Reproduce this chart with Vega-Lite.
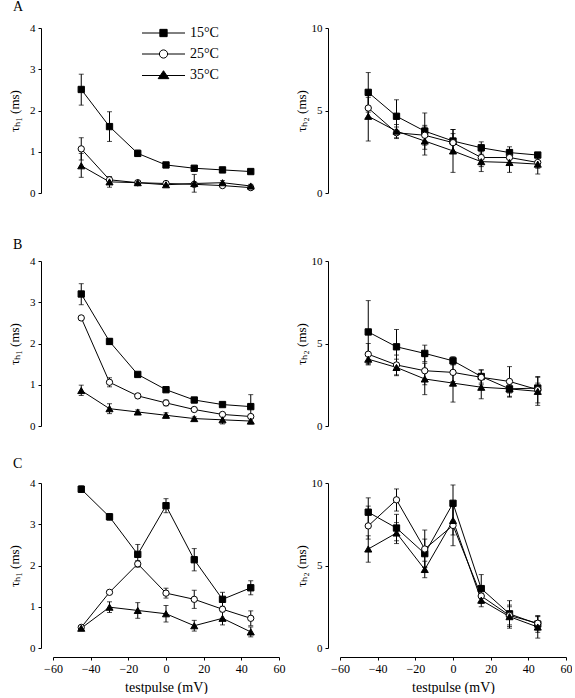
{
"$schema":"https://vega.github.io/schema/vega-lite/v6.json",
"background":"white",
"padding":{"left":8,"top":0,"right":0,"bottom":0},
"config":{
 "view":{"stroke":null},
 "font":"Liberation Serif",
 "axis":{"grid":false,"domainColor":"black","tickColor":"black","labelColor":"black","titleColor":"black","labelFont":"Liberation Serif","titleFont":"Liberation Serif","labelFontSize":12,"titleFontSize":13,"titleFontWeight":"normal","tickSize":3,"labelPadding":3,"domainWidth":1,"tickWidth":1},
 "axisY":{"offset":12,"titleX":-20,"labelFontSize":11,"labelFont":"Liberation Serif","titleFont":"Liberation Serif"},
 "axisX":{"offset":9,"labelFlush":false,"labelFontSize":12,"titleFontSize":14,"titlePadding":6,"labelFont":"Liberation Serif","titleFont":"Liberation Serif"}
},
"datasets":{"d":[
{"r":"A","p":"h1","temp":"15°C","v":-45,"m":2.51,"lo":2.13,"hi":2.88},
{"r":"A","p":"h1","temp":"15°C","v":-30,"m":1.61,"lo":1.25,"hi":1.97},
{"r":"A","p":"h1","temp":"15°C","v":-15,"m":0.96,"lo":0.89,"hi":1.04},
{"r":"A","p":"h1","temp":"15°C","v":0,"m":0.68,"lo":0.64,"hi":0.72},
{"r":"A","p":"h1","temp":"15°C","v":15,"m":0.60,"lo":0.56,"hi":0.64},
{"r":"A","p":"h1","temp":"15°C","v":30,"m":0.56,"lo":0.53,"hi":0.59},
{"r":"A","p":"h1","temp":"15°C","v":45,"m":0.52,"lo":0.48,"hi":0.56},
{"r":"A","p":"h1","temp":"25°C","v":-45,"m":1.07,"lo":0.80,"hi":1.34},
{"r":"A","p":"h1","temp":"25°C","v":-30,"m":0.32,"lo":0.28,"hi":0.36},
{"r":"A","p":"h1","temp":"25°C","v":-15,"m":0.25,"lo":0.21,"hi":0.29},
{"r":"A","p":"h1","temp":"25°C","v":0,"m":0.23,"lo":0.19,"hi":0.27},
{"r":"A","p":"h1","temp":"25°C","v":15,"m":0.21,"lo":0.17,"hi":0.25},
{"r":"A","p":"h1","temp":"25°C","v":30,"m":0.18,"lo":0.15,"hi":0.21},
{"r":"A","p":"h1","temp":"25°C","v":45,"m":0.13,"lo":0.10,"hi":0.16},
{"r":"A","p":"h1","temp":"35°C","v":-45,"m":0.66,"lo":0.38,"hi":0.96},
{"r":"A","p":"h1","temp":"35°C","v":-30,"m":0.27,"lo":0.14,"hi":0.40},
{"r":"A","p":"h1","temp":"35°C","v":-15,"m":0.25,"lo":0.20,"hi":0.30},
{"r":"A","p":"h1","temp":"35°C","v":0,"m":0.20,"lo":0.16,"hi":0.24},
{"r":"A","p":"h1","temp":"35°C","v":15,"m":0.23,"lo":0.02,"hi":0.45},
{"r":"A","p":"h1","temp":"35°C","v":30,"m":0.25,"lo":0.20,"hi":0.30},
{"r":"A","p":"h1","temp":"35°C","v":45,"m":0.17,"lo":0.13,"hi":0.21},
{"r":"A","p":"h2","temp":"15°C","v":-45,"m":6.1,"lo":4.9,"hi":7.3},
{"r":"A","p":"h2","temp":"15°C","v":-30,"m":4.65,"lo":3.65,"hi":5.65},
{"r":"A","p":"h2","temp":"15°C","v":-15,"m":3.75,"lo":2.65,"hi":4.85},
{"r":"A","p":"h2","temp":"15°C","v":0,"m":3.15,"lo":2.45,"hi":3.85},
{"r":"A","p":"h2","temp":"15°C","v":15,"m":2.74,"lo":2.35,"hi":3.1},
{"r":"A","p":"h2","temp":"15°C","v":30,"m":2.45,"lo":2.1,"hi":2.8},
{"r":"A","p":"h2","temp":"15°C","v":45,"m":2.3,"lo":2.15,"hi":2.45},
{"r":"A","p":"h2","temp":"25°C","v":-45,"m":5.15,"lo":4.5,"hi":5.8},
{"r":"A","p":"h2","temp":"25°C","v":-30,"m":3.65,"lo":3.3,"hi":4.0},
{"r":"A","p":"h2","temp":"25°C","v":-15,"m":3.5,"lo":2.9,"hi":4.1},
{"r":"A","p":"h2","temp":"25°C","v":0,"m":3.05,"lo":2.5,"hi":3.6},
{"r":"A","p":"h2","temp":"25°C","v":15,"m":2.15,"lo":1.6,"hi":2.7},
{"r":"A","p":"h2","temp":"25°C","v":30,"m":2.15,"lo":1.7,"hi":2.6},
{"r":"A","p":"h2","temp":"25°C","v":45,"m":1.85,"lo":1.5,"hi":2.2},
{"r":"A","p":"h2","temp":"35°C","v":-45,"m":4.65,"lo":3.15,"hi":6.15},
{"r":"A","p":"h2","temp":"35°C","v":-30,"m":3.75,"lo":3.35,"hi":4.15},
{"r":"A","p":"h2","temp":"35°C","v":-15,"m":3.15,"lo":2.3,"hi":4.0},
{"r":"A","p":"h2","temp":"35°C","v":0,"m":2.55,"lo":1.25,"hi":3.85},
{"r":"A","p":"h2","temp":"35°C","v":15,"m":1.9,"lo":1.3,"hi":2.5},
{"r":"A","p":"h2","temp":"35°C","v":30,"m":1.85,"lo":1.25,"hi":2.45},
{"r":"A","p":"h2","temp":"35°C","v":45,"m":1.75,"lo":1.15,"hi":2.35},
{"r":"B","p":"h1","temp":"15°C","v":-45,"m":3.20,"lo":2.94,"hi":3.45},
{"r":"B","p":"h1","temp":"15°C","v":-30,"m":2.05,"lo":1.98,"hi":2.12},
{"r":"B","p":"h1","temp":"15°C","v":-15,"m":1.25,"lo":1.21,"hi":1.29},
{"r":"B","p":"h1","temp":"15°C","v":0,"m":0.88,"lo":0.84,"hi":0.92},
{"r":"B","p":"h1","temp":"15°C","v":15,"m":0.63,"lo":0.59,"hi":0.67},
{"r":"B","p":"h1","temp":"15°C","v":30,"m":0.52,"lo":0.48,"hi":0.56},
{"r":"B","p":"h1","temp":"15°C","v":45,"m":0.47,"lo":0.18,"hi":0.76},
{"r":"B","p":"h1","temp":"25°C","v":-45,"m":2.62,"lo":2.58,"hi":2.66},
{"r":"B","p":"h1","temp":"25°C","v":-30,"m":1.06,"lo":0.95,"hi":1.17},
{"r":"B","p":"h1","temp":"25°C","v":-15,"m":0.73,"lo":0.68,"hi":0.78},
{"r":"B","p":"h1","temp":"25°C","v":0,"m":0.56,"lo":0.49,"hi":0.63},
{"r":"B","p":"h1","temp":"25°C","v":15,"m":0.40,"lo":0.36,"hi":0.44},
{"r":"B","p":"h1","temp":"25°C","v":30,"m":0.28,"lo":0.25,"hi":0.31},
{"r":"B","p":"h1","temp":"25°C","v":45,"m":0.23,"lo":0.19,"hi":0.27},
{"r":"B","p":"h1","temp":"35°C","v":-45,"m":0.86,"lo":0.74,"hi":0.99},
{"r":"B","p":"h1","temp":"35°C","v":-30,"m":0.42,"lo":0.30,"hi":0.54},
{"r":"B","p":"h1","temp":"35°C","v":-15,"m":0.34,"lo":0.29,"hi":0.39},
{"r":"B","p":"h1","temp":"35°C","v":0,"m":0.26,"lo":0.20,"hi":0.32},
{"r":"B","p":"h1","temp":"35°C","v":15,"m":0.18,"lo":0.14,"hi":0.22},
{"r":"B","p":"h1","temp":"35°C","v":30,"m":0.15,"lo":0.05,"hi":0.25},
{"r":"B","p":"h1","temp":"35°C","v":45,"m":0.12,"lo":0.05,"hi":0.19},
{"r":"B","p":"h2","temp":"15°C","v":-45,"m":5.7,"lo":3.8,"hi":7.6},
{"r":"B","p":"h2","temp":"15°C","v":-30,"m":4.8,"lo":3.8,"hi":5.85},
{"r":"B","p":"h2","temp":"15°C","v":-15,"m":4.4,"lo":3.9,"hi":4.9},
{"r":"B","p":"h2","temp":"15°C","v":0,"m":3.95,"lo":3.7,"hi":4.2},
{"r":"B","p":"h2","temp":"15°C","v":15,"m":3.0,"lo":2.6,"hi":3.4},
{"r":"B","p":"h2","temp":"15°C","v":30,"m":2.25,"lo":2.0,"hi":2.5},
{"r":"B","p":"h2","temp":"15°C","v":45,"m":2.3,"lo":2.0,"hi":2.6},
{"r":"B","p":"h2","temp":"25°C","v":-45,"m":4.35,"lo":3.7,"hi":5.0},
{"r":"B","p":"h2","temp":"25°C","v":-30,"m":3.7,"lo":3.1,"hi":4.3},
{"r":"B","p":"h2","temp":"25°C","v":-15,"m":3.35,"lo":2.5,"hi":4.2},
{"r":"B","p":"h2","temp":"25°C","v":0,"m":3.25,"lo":2.7,"hi":3.8},
{"r":"B","p":"h2","temp":"25°C","v":15,"m":2.95,"lo":2.5,"hi":3.4},
{"r":"B","p":"h2","temp":"25°C","v":30,"m":2.7,"lo":1.8,"hi":3.6},
{"r":"B","p":"h2","temp":"25°C","v":45,"m":2.2,"lo":1.4,"hi":3.0},
{"r":"B","p":"h2","temp":"35°C","v":-45,"m":4.05,"lo":3.75,"hi":4.35},
{"r":"B","p":"h2","temp":"35°C","v":-30,"m":3.55,"lo":3.05,"hi":4.05},
{"r":"B","p":"h2","temp":"35°C","v":-15,"m":2.85,"lo":1.9,"hi":3.8},
{"r":"B","p":"h2","temp":"35°C","v":0,"m":2.6,"lo":1.45,"hi":3.75},
{"r":"B","p":"h2","temp":"35°C","v":15,"m":2.35,"lo":1.65,"hi":3.05},
{"r":"B","p":"h2","temp":"35°C","v":30,"m":2.25,"lo":1.75,"hi":2.75},
{"r":"B","p":"h2","temp":"35°C","v":45,"m":2.1,"lo":1.25,"hi":2.95},
{"r":"C","p":"h1","temp":"15°C","v":-45,"m":3.85,"lo":3.77,"hi":3.93},
{"r":"C","p":"h1","temp":"15°C","v":-30,"m":3.18,"lo":3.10,"hi":3.26},
{"r":"C","p":"h1","temp":"15°C","v":-15,"m":2.27,"lo":2.03,"hi":2.51},
{"r":"C","p":"h1","temp":"15°C","v":0,"m":3.45,"lo":3.28,"hi":3.62},
{"r":"C","p":"h1","temp":"15°C","v":15,"m":2.14,"lo":1.87,"hi":2.41},
{"r":"C","p":"h1","temp":"15°C","v":30,"m":1.18,"lo":1.01,"hi":1.35},
{"r":"C","p":"h1","temp":"15°C","v":45,"m":1.46,"lo":1.29,"hi":1.63},
{"r":"C","p":"h1","temp":"25°C","v":-45,"m":0.50,"lo":0.46,"hi":0.54},
{"r":"C","p":"h1","temp":"25°C","v":-30,"m":1.35,"lo":1.32,"hi":1.38},
{"r":"C","p":"h1","temp":"25°C","v":-15,"m":2.04,"lo":1.96,"hi":2.12},
{"r":"C","p":"h1","temp":"25°C","v":0,"m":1.33,"lo":1.21,"hi":1.45},
{"r":"C","p":"h1","temp":"25°C","v":15,"m":1.18,"lo":0.96,"hi":1.40},
{"r":"C","p":"h1","temp":"25°C","v":30,"m":0.94,"lo":0.90,"hi":0.98},
{"r":"C","p":"h1","temp":"25°C","v":45,"m":0.72,"lo":0.54,"hi":0.90},
{"r":"C","p":"h1","temp":"35°C","v":-45,"m":0.48,"lo":0.45,"hi":0.51},
{"r":"C","p":"h1","temp":"35°C","v":-30,"m":0.99,"lo":0.86,"hi":1.12},
{"r":"C","p":"h1","temp":"35°C","v":-15,"m":0.91,"lo":0.72,"hi":1.10},
{"r":"C","p":"h1","temp":"35°C","v":0,"m":0.83,"lo":0.63,"hi":1.03},
{"r":"C","p":"h1","temp":"35°C","v":15,"m":0.54,"lo":0.41,"hi":0.67},
{"r":"C","p":"h1","temp":"35°C","v":30,"m":0.72,"lo":0.56,"hi":0.88},
{"r":"C","p":"h1","temp":"35°C","v":45,"m":0.39,"lo":0.27,"hi":0.51},
{"r":"C","p":"h2","temp":"15°C","v":-45,"m":8.23,"lo":7.4,"hi":9.1},
{"r":"C","p":"h2","temp":"15°C","v":-30,"m":7.27,"lo":6.5,"hi":8.1},
{"r":"C","p":"h2","temp":"15°C","v":-15,"m":5.72,"lo":4.9,"hi":6.6},
{"r":"C","p":"h2","temp":"15°C","v":0,"m":8.77,"lo":7.7,"hi":9.88},
{"r":"C","p":"h2","temp":"15°C","v":15,"m":3.6,"lo":2.75,"hi":4.45},
{"r":"C","p":"h2","temp":"15°C","v":30,"m":2.07,"lo":1.3,"hi":2.87},
{"r":"C","p":"h2","temp":"15°C","v":45,"m":1.45,"lo":0.95,"hi":1.95},
{"r":"C","p":"h2","temp":"25°C","v":-45,"m":7.4,"lo":6.6,"hi":8.6},
{"r":"C","p":"h2","temp":"25°C","v":-30,"m":8.98,"lo":8.3,"hi":9.64},
{"r":"C","p":"h2","temp":"25°C","v":-15,"m":6.0,"lo":4.9,"hi":7.15},
{"r":"C","p":"h2","temp":"25°C","v":0,"m":7.43,"lo":6.2,"hi":8.6},
{"r":"C","p":"h2","temp":"25°C","v":15,"m":3.15,"lo":2.7,"hi":3.6},
{"r":"C","p":"h2","temp":"25°C","v":30,"m":1.97,"lo":1.4,"hi":2.5},
{"r":"C","p":"h2","temp":"25°C","v":45,"m":1.5,"lo":1.1,"hi":1.9},
{"r":"C","p":"h2","temp":"35°C","v":-45,"m":6.0,"lo":5.2,"hi":6.8},
{"r":"C","p":"h2","temp":"35°C","v":-30,"m":6.97,"lo":6.33,"hi":7.6},
{"r":"C","p":"h2","temp":"35°C","v":-15,"m":4.76,"lo":4.26,"hi":5.26},
{"r":"C","p":"h2","temp":"35°C","v":0,"m":7.73,"lo":6.85,"hi":8.6},
{"r":"C","p":"h2","temp":"35°C","v":15,"m":2.9,"lo":2.5,"hi":3.3},
{"r":"C","p":"h2","temp":"35°C","v":30,"m":1.9,"lo":1.2,"hi":2.6},
{"r":"C","p":"h2","temp":"35°C","v":45,"m":1.27,"lo":0.6,"hi":1.95}
]},
"data":{"name":"d"},
"columns":2,
"spacing":{"row":57,"column":61},
"bounds":"flush",
"concat":[
  {"width":226,"height":165,
   "transform":[{"filter":"datum.r=='A' && datum.p=='h1'"}],
   "title":{"text":"A","anchor":"start","frame":"group","dx":-40,"offset":8,"fontSize":14,"font":"Liberation Serif","fontWeight":"normal","color":"black"},
   "encoding":{"x":{"field":"v","type":"quantitative","scale":{"domain":[-60,60]},"axis":null},
     "y":{"field":"m","type":"quantitative","scale":{"domain":[0,4]},"axis":{"values":[0,1,2,3,4],"title":"τₕ₁ (ms)"}}},
   "layer":[
    {"mark":{"type":"errorbar","ticks":{"size":5,"thickness":1,"color":"black"},"thickness":1,"color":"black"},"encoding":{"y":{"field":"lo","type":"quantitative","title":"τₕ₁ (ms)"},"y2":{"field":"hi"}}},
    {"mark":{"type":"line","color":"black","strokeWidth":1},"encoding":{"detail":{"field":"temp"}}},
    {"transform":[{"filter":"datum.temp=='15°C'"}],"mark":{"type":"point","shape":"square","filled":true,"fill":"black","stroke":"black","strokeWidth":1,"size":40,"opacity":1}},
    {"transform":[{"filter":"datum.temp=='25°C'"}],"mark":{"type":"point","shape":"circle","filled":true,"fill":"white","stroke":"black","strokeWidth":1,"size":40,"opacity":1}},
    {"transform":[{"filter":"datum.temp=='35°C'"}],"mark":{"type":"point","shape":"triangle-up","filled":true,"fill":"black","stroke":"black","strokeWidth":1,"size":50,"opacity":1}},
    {"mark":{"type":"point","filled":true,"stroke":"black","size":0},
     "encoding":{
      "shape":{"field":"temp","type":"nominal","scale":{"domain":["15°C","25°C","35°C"],"range":["M-4.3,0H4.3M-0.73,-0.73H0.73V0.73H-0.73Z","M-4.3,0H-0.82M0.82,0H4.3M-0.82,0A0.82,0.82 0 1 0 0.82,0A0.82,0.82 0 1 0 -0.82,0Z","M-4.3,0.1H4.3M0,-0.86L1.07,0.73H-1.07Z"]},
       "legend":{"orient":"none","legendX":103.5,"legendY":-2,"title":null,"symbolSize":100,"symbolStrokeColor":"black","symbolStrokeWidth":1,"symbolOpacity":1,"labelFont":"Liberation Serif","labelFontSize":14,"labelColor":"black","labelOffset":19.5,"rowPadding":7,"padding":0}},
      "fill":{"field":"temp","type":"nominal","scale":{"domain":["15°C","25°C","35°C"],"range":["black","white","black"]},
       "legend":{"orient":"none","legendX":103.5,"legendY":-2,"title":null,"symbolSize":100,"symbolStrokeColor":"black","symbolStrokeWidth":1,"symbolOpacity":1,"labelFont":"Liberation Serif","labelFontSize":14,"labelColor":"black","labelOffset":19.5,"rowPadding":7,"padding":0}},
      "stroke":{"field":"temp","type":"nominal","scale":{"domain":["15°C","25°C","35°C"],"range":["black","black","black"]},
       "legend":{"orient":"none","legendX":103.5,"legendY":-2,"title":null,"symbolSize":100,"symbolStrokeWidth":1,"symbolOpacity":1,"labelFont":"Liberation Serif","labelFontSize":14,"labelColor":"black","labelOffset":19.5,"rowPadding":7,"padding":0}}
     }}
   ]},
  {"width":226,"height":165,
   "transform":[{"filter":"datum.r=='A' && datum.p=='h2'"}],
   "encoding":{"x":{"field":"v","type":"quantitative","scale":{"domain":[-60,60]},"axis":null},
     "y":{"field":"m","type":"quantitative","scale":{"domain":[0,10]},"axis":{"values":[0,5,10],"title":"τₕ₂ (ms)"}}},
   "layer":[
    {"mark":{"type":"errorbar","ticks":{"size":5,"thickness":1,"color":"black"},"thickness":1,"color":"black"},"encoding":{"y":{"field":"lo","type":"quantitative","title":"τₕ₂ (ms)"},"y2":{"field":"hi"}}},
    {"mark":{"type":"line","color":"black","strokeWidth":1},"encoding":{"detail":{"field":"temp"}}},
    {"transform":[{"filter":"datum.temp=='15°C'"}],"mark":{"type":"point","shape":"square","filled":true,"fill":"black","stroke":"black","strokeWidth":1,"size":40,"opacity":1}},
    {"transform":[{"filter":"datum.temp=='25°C'"}],"mark":{"type":"point","shape":"circle","filled":true,"fill":"white","stroke":"black","strokeWidth":1,"size":40,"opacity":1}},
    {"transform":[{"filter":"datum.temp=='35°C'"}],"mark":{"type":"point","shape":"triangle-up","filled":true,"fill":"black","stroke":"black","strokeWidth":1,"size":50,"opacity":1}}
   ]},
  {"width":226,"height":176,
   "transform":[{"filter":"datum.r=='B' && datum.p=='h1'"}],
   "title":{"text":"B","anchor":"start","frame":"group","dx":-40,"offset":-2,"fontSize":14,"font":"Liberation Serif","fontWeight":"normal","color":"black"},
   "encoding":{"x":{"field":"v","type":"quantitative","scale":{"domain":[-60,60]},"axis":null},
     "y":{"field":"m","type":"quantitative","scale":{"domain":[0,4],"range":[176,11]},"axis":{"values":[0,1,2,3,4],"title":"τₕ₁ (ms)","titleY":93.5}}},
   "layer":[
    {"mark":{"type":"errorbar","ticks":{"size":5,"thickness":1,"color":"black"},"thickness":1,"color":"black"},"encoding":{"y":{"field":"lo","type":"quantitative","title":"τₕ₁ (ms)"},"y2":{"field":"hi"}}},
    {"mark":{"type":"line","color":"black","strokeWidth":1},"encoding":{"detail":{"field":"temp"}}},
    {"transform":[{"filter":"datum.temp=='15°C'"}],"mark":{"type":"point","shape":"square","filled":true,"fill":"black","stroke":"black","strokeWidth":1,"size":40,"opacity":1}},
    {"transform":[{"filter":"datum.temp=='25°C'"}],"mark":{"type":"point","shape":"circle","filled":true,"fill":"white","stroke":"black","strokeWidth":1,"size":40,"opacity":1}},
    {"transform":[{"filter":"datum.temp=='35°C'"}],"mark":{"type":"point","shape":"triangle-up","filled":true,"fill":"black","stroke":"black","strokeWidth":1,"size":50,"opacity":1}}
   ]},
  {"width":226,"height":176,
   "transform":[{"filter":"datum.r=='B' && datum.p=='h2'"}],
   "encoding":{"x":{"field":"v","type":"quantitative","scale":{"domain":[-60,60]},"axis":null},
     "y":{"field":"m","type":"quantitative","scale":{"domain":[0,10],"range":[176,11]},"axis":{"values":[0,5,10],"title":"τₕ₂ (ms)","titleY":93.5}}},
   "layer":[
    {"mark":{"type":"errorbar","ticks":{"size":5,"thickness":1,"color":"black"},"thickness":1,"color":"black"},"encoding":{"y":{"field":"lo","type":"quantitative","title":"τₕ₂ (ms)"},"y2":{"field":"hi"}}},
    {"mark":{"type":"line","color":"black","strokeWidth":1},"encoding":{"detail":{"field":"temp"}}},
    {"transform":[{"filter":"datum.temp=='15°C'"}],"mark":{"type":"point","shape":"square","filled":true,"fill":"black","stroke":"black","strokeWidth":1,"size":40,"opacity":1}},
    {"transform":[{"filter":"datum.temp=='25°C'"}],"mark":{"type":"point","shape":"circle","filled":true,"fill":"white","stroke":"black","strokeWidth":1,"size":40,"opacity":1}},
    {"transform":[{"filter":"datum.temp=='35°C'"}],"mark":{"type":"point","shape":"triangle-up","filled":true,"fill":"black","stroke":"black","strokeWidth":1,"size":50,"opacity":1}}
   ]},
  {"width":226,"height":165,
   "transform":[{"filter":"datum.r=='C' && datum.p=='h1'"}],
   "title":{"text":"C","anchor":"start","frame":"group","dx":-40,"offset":6,"fontSize":14,"font":"Liberation Serif","fontWeight":"normal","color":"black"},
   "encoding":{"x":{"field":"v","type":"quantitative","scale":{"domain":[-60,60]},"axis":{"values":[-60,-40,-20,0,20,40,60],"title":"testpulse (mV)"}},
     "y":{"field":"m","type":"quantitative","scale":{"domain":[0,4]},"axis":{"values":[0,1,2,3,4],"title":"τₕ₁ (ms)"}}},
   "layer":[
    {"mark":{"type":"errorbar","ticks":{"size":5,"thickness":1,"color":"black"},"thickness":1,"color":"black"},"encoding":{"y":{"field":"lo","type":"quantitative","title":"τₕ₁ (ms)"},"y2":{"field":"hi"}}},
    {"mark":{"type":"line","color":"black","strokeWidth":1},"encoding":{"detail":{"field":"temp"}}},
    {"transform":[{"filter":"datum.temp=='15°C'"}],"mark":{"type":"point","shape":"square","filled":true,"fill":"black","stroke":"black","strokeWidth":1,"size":40,"opacity":1}},
    {"transform":[{"filter":"datum.temp=='25°C'"}],"mark":{"type":"point","shape":"circle","filled":true,"fill":"white","stroke":"black","strokeWidth":1,"size":40,"opacity":1}},
    {"transform":[{"filter":"datum.temp=='35°C'"}],"mark":{"type":"point","shape":"triangle-up","filled":true,"fill":"black","stroke":"black","strokeWidth":1,"size":50,"opacity":1}}
   ]},
  {"width":226,"height":165,
   "transform":[{"filter":"datum.r=='C' && datum.p=='h2'"}],
   "encoding":{"x":{"field":"v","type":"quantitative","scale":{"domain":[-60,60]},"axis":{"values":[-60,-40,-20,0,20,40,60],"title":"testpulse (mV)"}},
     "y":{"field":"m","type":"quantitative","scale":{"domain":[0,10]},"axis":{"values":[0,5,10],"title":"τₕ₂ (ms)"}}},
   "layer":[
    {"mark":{"type":"errorbar","ticks":{"size":5,"thickness":1,"color":"black"},"thickness":1,"color":"black"},"encoding":{"y":{"field":"lo","type":"quantitative","title":"τₕ₂ (ms)"},"y2":{"field":"hi"}}},
    {"mark":{"type":"line","color":"black","strokeWidth":1},"encoding":{"detail":{"field":"temp"}}},
    {"transform":[{"filter":"datum.temp=='15°C'"}],"mark":{"type":"point","shape":"square","filled":true,"fill":"black","stroke":"black","strokeWidth":1,"size":40,"opacity":1}},
    {"transform":[{"filter":"datum.temp=='25°C'"}],"mark":{"type":"point","shape":"circle","filled":true,"fill":"white","stroke":"black","strokeWidth":1,"size":40,"opacity":1}},
    {"transform":[{"filter":"datum.temp=='35°C'"}],"mark":{"type":"point","shape":"triangle-up","filled":true,"fill":"black","stroke":"black","strokeWidth":1,"size":50,"opacity":1}}
   ]}
]
}
